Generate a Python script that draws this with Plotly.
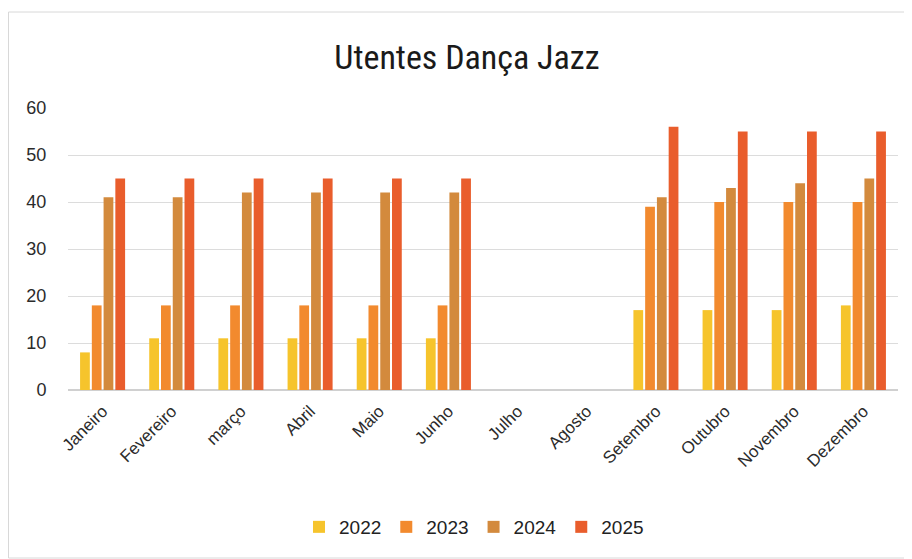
import plotly.graph_objects as go

months = ["Janeiro", "Fevereiro", "março", "Abril", "Maio", "Junho", "Julho",
          "Agosto", "Setembro", "Outubro", "Novembro", "Dezembro"]
v2022 = [8, 11, 11, 11, 11, 11, None, None, 17, 17, 17, 18]
v2023 = [18, 18, 18, 18, 18, 18, None, None, 39, 40, 40, 40]
v2024 = [41, 41, 42, 42, 42, 42, None, None, 41, 43, 44, 45]
v2025 = [45, 45, 45, 45, 45, 45, None, None, 56, 55, 55, 55]
series = [("2022", v2022, "#F6C42C"), ("2023", v2023, "#F28A2E"),
          ("2024", v2024, "#D38A3D"), ("2025", v2025, "#E95D2C")]

fig = go.Figure()
for name, vals, col in series:
    fig.add_trace(go.Bar(x=months, y=vals, name=name, marker_color=col,
                         marker_line_width=0))

# page body has an 8px offset; figure coordinates below are screen - 8
W, H = 904, 551
L, R, T, B = 60, 14, 100, 169
pw, ph = W - L - R, H - T - B

fig.update_layout(
    width=W, height=H,
    margin=dict(l=L, r=R, t=T, b=B),
    paper_bgcolor="white", plot_bgcolor="white",
    barmode="group", bargap=0.32, bargroupgap=0.17,
    title=dict(text="Utentes Dança Jazz", x=(459 - L) / pw, xref="paper",
               y=1 - 49 / H, yanchor="middle", xanchor="center",
               font=dict(family="Liberation Sans Narrow, Roboto Condensed, Arial Narrow, sans-serif",
                         size=34, color="#1a1a1a")),
    font=dict(family="Liberation Sans, Arial, sans-serif", size=17, color="#2b2b2b"),
    legend=dict(orientation="h", x=(466 - L) / pw, xanchor="center",
                y=-(519 - (T + ph)) / ph, yanchor="middle",
                font=dict(size=19, color="#222"), itemwidth=30,
                traceorder="normal"),
    xaxis=dict(tickangle=-45, showgrid=False, showline=False, ticks="",
               tickfont=dict(size=17), ticklabelstandoff=7),
    yaxis=dict(range=[0, 60], dtick=10, showgrid=True, gridcolor="#dcdcdc",
               gridwidth=1, zeroline=True, zerolinecolor="#d0d0d0",
               showline=False, ticks="outside", ticklen=17,
               tickcolor="rgba(0,0,0,0)", tickfont=dict(size=18)),
    shapes=[dict(type="rect", xref="paper", yref="paper",
                 x0=(0.5 - L) / pw, x1=(903 - L) / pw,
                 y0=-(550 - (T + ph)) / ph, y1=1 + (T - 4) / ph,
                 line=dict(color="#d8d8d8", width=1), layer="below")],
)

fig.write_html("out.html")
